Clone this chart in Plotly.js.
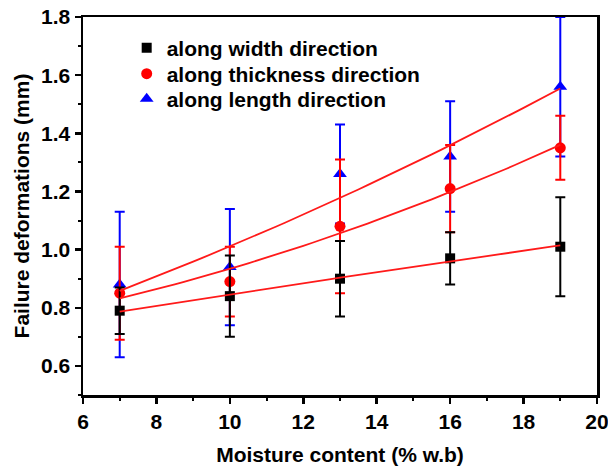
<!DOCTYPE html>
<html><head><meta charset="utf-8">
<script src="https://cdn.plot.ly/plotly-3.0.1.min.js"></script>
<style>html,body{margin:0;padding:0;background:#fff}#chart{width:608px;height:469px}</style>
</head><body><div id="chart"></div>
<script>
const moisture = [7, 10, 13, 16, 19];
const widthVals = [0.79, 0.84, 0.90, 0.97, 1.01];
const widthErr = [0.08, 0.14, 0.13, 0.09, 0.17];
const thickVals = [0.85, 0.89, 1.08, 1.21, 1.35];
const thickErr = [0.16, 0.12, 0.23, 0.15, 0.11];
const lengthVals = [0.88, 0.94, 1.26, 1.32, 1.56];
const lengthErr = [0.25, 0.20, 0.17, 0.19, 0.24];
const seriesNames = ['along width direction', 'along thickness direction', 'along length direction'];

// quadratic least-squares fit of the data, evaluated across the data range
function quadFit(xs, ys) {
  const n = xs.length;
  const mx = xs.reduce((s, v) => s + v, 0) / n;
  const t = xs.map(v => v - mx);
  const t2 = t.map(v => v * v);
  const mt2 = t2.reduce((s, v) => s + v, 0) / n;
  const my = ys.reduce((s, v) => s + v, 0) / n;
  let s1 = 0, s11 = 0, s2 = 0, s22 = 0, s12 = 0;
  for (let i = 0; i < n; i++) {
    const a = t[i], b = t2[i] - mt2, y = ys[i] - my;
    s1 += a * y; s11 += a * a; s2 += b * y; s22 += b * b; s12 += a * b;
  }
  const det = s11 * s22 - s12 * s12;
  const c1 = (s1 * s22 - s2 * s12) / det;
  const c2 = (s2 * s11 - s1 * s12) / det;
  const fx = [], fy = [];
  for (let x = xs[0]; x <= xs[n - 1] + 1e-9; x += 0.25) {
    const tt = x - mx;
    fx.push(x); fy.push(my + c1 * tt + c2 * (tt * tt - mt2));
  }
  return {x: fx, y: fy};
}

function pts(name, y, err, color, symbol, size, legendId) {
  return {
    x: moisture, y: y, name: name, type: 'scatter', mode: 'markers', legend: legendId,
    marker: {color: color, symbol: symbol, size: size},
    error_y: {type: 'data', array: err, visible: true, color: color, thickness: 2, width: 5},
    cliponaxis: true
  };
}
function fit(y) {
  const f = quadFit(moisture, y);
  return {x: f.x, y: f.y, type: 'scatter', mode: 'lines', showlegend: false, hoverinfo: 'skip',
    line: {color: '#ff1a1a', width: 1.8}};
}

const traces = [
  pts(seriesNames[2], lengthVals, lengthErr, '#0000ff', 'triangle-up', 12, 'legend3'),
  pts(seriesNames[1], thickVals, thickErr, '#ff0000', 'circle', 11, 'legend2'),
  pts(seriesNames[0], widthVals, widthErr, '#000000', 'square', 10, 'legend'),
  fit(widthVals), fit(thickVals), fit(lengthVals)
];

const fam = 'Liberation Sans, Arial, sans-serif';
function leg(y) {
  return {x: 0.085, y: y, xanchor: 'left', yanchor: 'middle', bgcolor: 'rgba(0,0,0,0)',
    font: {size: 21, weight: 'bold', family: fam, color: '#000'}};
}
const layout = {
  width: 608, height: 469,
  margin: {l: 83, r: 11, t: 17, b: 74},
  paper_bgcolor: '#fff', plot_bgcolor: '#fff',
  font: {family: fam, color: '#000', weight: 'bold'},
  showlegend: true,
  legend: leg(0.918), legend2: leg(0.849), legend3: leg(0.783),
  xaxis: {
    range: [6, 20], dtick: 2, tick0: 6, showgrid: false, zeroline: false,
    showline: true, linecolor: '#000', linewidth: 2.5, mirror: true,
    ticks: 'outside', ticklen: 6, tickwidth: 2.5, tickcolor: '#000',
    minor: {ticks: 'outside', ticklen: 3, tickwidth: 2, dtick: 1, tickcolor: '#000', showgrid: false},
    tickfont: {size: 21, weight: 'bold'}, ticklabeloverflow: 'allow',
    title: {text: 'Moisture content (% w.b)', font: {size: 21, weight: 'bold'}, standoff: 16}
  },
  yaxis: {
    range: [0.5, 1.8], dtick: 0.2, tick0: 0.6, showgrid: false, zeroline: false,
    showline: true, linecolor: '#000', linewidth: 2.5, mirror: true,
    ticks: 'outside', ticklen: 6, tickwidth: 2.5, tickcolor: '#000',
    minor: {ticks: 'outside', ticklen: 3, tickwidth: 2, dtick: 0.1, tickcolor: '#000', showgrid: false},
    tickformat: '.1f', ticklabeloverflow: 'allow',
    tickfont: {size: 21, weight: 'bold'},
    title: {text: 'Failure deformations (mm)', font: {size: 21, weight: 'bold'}, standoff: 6}
  }
};
Plotly.newPlot('chart', traces, layout, {displayModeBar: false, staticPlot: true});
</script></body></html>
